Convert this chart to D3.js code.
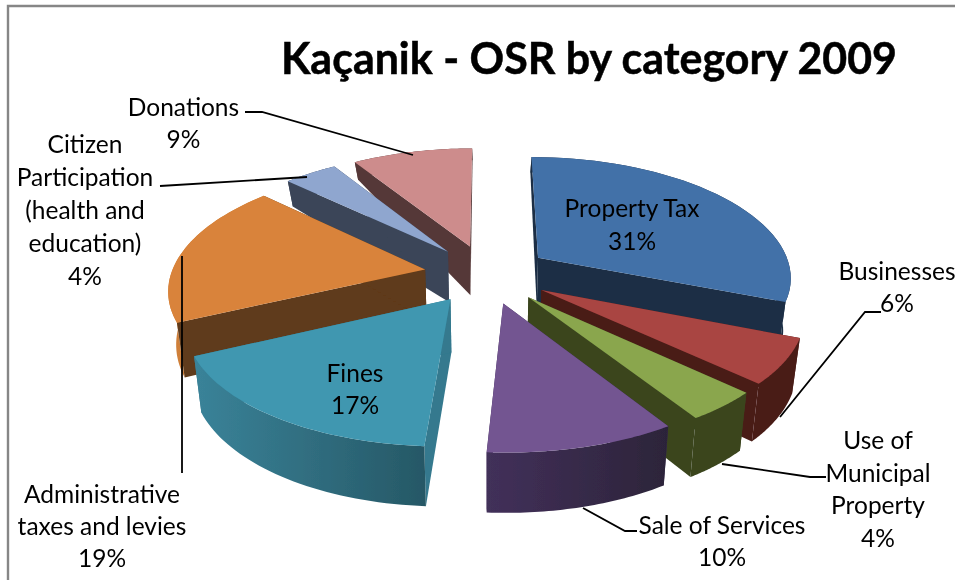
<!DOCTYPE html>
<html>
<head>
<meta charset="utf-8">
<script src="https://cdn.jsdelivr.net/npm/d3@7/dist/d3.min.js"></script>
<style>
html,body{margin:0;padding:0;background:#fff;}
svg{display:block;}
text{font-family:Lato,"Open Sans",sans-serif;fill:#000;}
</style>
</head>
<body>
<svg id="chart" width="955" height="580"></svg>
<script>
const titleText = "Kaçanik - OSR by category 2009";
const categories = ["Property Tax","Businesses","Use of Municipal Property","Sale of Services","Fines","Administrative taxes and levies","Citizen Participation (health and education)","Donations"];
const shares = [31,6,4,10,17,19,4,9];
const topColors = ["#4371a8","#a94442","#8aa64d","#735591","#3f97b0","#d9833a","#8fa6cf","#cd8c8c"];
const wallColors = ["#1c2f45","#4a1c18","#3a451f","#3d2d54","#34798e","#5f3a1a","#3a4558","#553838"];
const rimFromColors = ["#1c2f45","#4a1c18","#3a451f","#42305a","#3a8399","#d0803a","#3a4558","#553838"];
const rimToColors = ["#1c2f45","#4a1c18","#3a451f","#2c2439","#265866","#c87a34","#3a4558","#553838"];
const paintOrder = [7,6,5,0,1,2,3,4];
const labelLines = [["Property Tax","31%"],["Businesses","6%"],["Use of","Municipal","Property","4%"],["Sale of Services","10%"],["Fines","17%"],["Administrative","taxes and levies","19%"],["Citizen","Participation","(health and","education)","4%"],["Donations","9%"]];
const labelX = [632,897,878,722,355,102,85,183.5];
const labelY = [217,280,449,534,382,503,153,116];
const labelStep = [33,32,32.5,32,32,32,33,32];
const leaderLines = [
  [[245,112],[262,112],[413,155]],
  [[160,186],[307,177]],
  [[182,256],[182,473]],
  [[583,508],[625,531],[637,531]],
  [[722,464],[810,477],[826,477]],
  [[780,417],[865,312],[881,312]]
];

const svg = d3.select("#chart");
const cx = 487, cy = 274;
const explode = 0.248, perspX = 0.15, perspY = 0.14, radiusX = 254, radiusY = 119, converge = 0.975;
const sx = (X,Y) => cx + radiusX*X/(1+perspX*Y);
const sy = (X,Y) => cy - radiusY*Y/(1+perspY*Y);
const depth = d3.scaleLinear().domain([-1.2,-0.4,0.2,1.1]).range([60,55,50,17]);
const topPt = (X,Y) => [sx(X,Y), sy(X,Y)];
const botPt = (X,Y) => [cx + (sx(X,Y)-cx)*converge, sy(X,Y)+depth(Y)];
const line = d3.line();
const arcs = d3.pie().sort(null).value(d=>d)(shares);
const defs = svg.append("defs");
const addBlur = (id,s)=>defs.append("filter").attr("id",id).attr("x","-5%").attr("y","-10%").attr("width","110%").attr("height","120%")
  .append("feGaussianBlur").attr("stdDeviation",s);
addBlur("soft",0.55);
addBlur("softText",0.35);

svg.append("path").attr("d","M8,580V6H955").attr("fill","none").attr("stroke","#868686").attr("stroke-width",2.4);
const pieG = svg.append("g").attr("filter","url(#soft)");

paintOrder.forEach(i=>{
  const a = arcs[i];
  const mid = (a.startAngle+a.endAngle)/2;
  const ox = explode*Math.sin(mid), oy = explode*Math.cos(mid);
  const thetas = d3.range(0,41).map(k=>a.startAngle+(a.endAngle-a.startAngle)*k/40);
  const rim = thetas.map(t=>[ox+Math.sin(t), oy+Math.cos(t)]);
  const apex = [ox,oy];
  const rimTop = rim.map(p=>topPt(p[0],p[1]));
  const rimBot = rim.map(p=>botPt(p[0],p[1]));
  const g = pieG.append("g");
  const wall = (p)=>line([topPt(...apex),topPt(...p),botPt(...p),botPt(...apex)])+"Z";
  const drawWalls = ()=>{
    g.append("path").attr("d",wall(rim[0])).attr("fill",wallColors[i]);
    g.append("path").attr("d",wall(rim[rim.length-1])).attr("fill",wallColors[i]);
  };
  const wallsOverRim = categories[i].startsWith("Administrative");
  if(!wallsOverRim) drawWalls();
  const xs = rimTop.map(p=>p[0]);
  const grad = defs.append("linearGradient").attr("id","rim"+i).attr("gradientUnits","userSpaceOnUse")
    .attr("x1",d3.min(xs)).attr("x2",d3.max(xs)).attr("y1",0).attr("y2",0);
  grad.append("stop").attr("offset",0).attr("stop-color",rimFromColors[i]);
  grad.append("stop").attr("offset",1).attr("stop-color",rimToColors[i]);
  g.append("path").attr("d",line(rimTop.concat(rimBot.slice().reverse()))+"Z").attr("fill",`url(#rim${i})`);
  if(wallsOverRim) drawWalls();
  g.append("path").attr("d",line([topPt(...apex)].concat(rimTop))+"Z").attr("fill",topColors[i]);
});

svg.append("g").selectAll("path").data(leaderLines).join("path")
  .attr("d",d=>line(d)).attr("fill","none").attr("stroke","#000").attr("stroke-width",1.8);

const textG = svg.append("g").attr("filter","url(#softText)");
textG.append("text").attr("x",589).attr("y",74).attr("text-anchor","middle")
  .attr("font-size",44).attr("font-weight",700).attr("stroke","#000").attr("stroke-width",0.5)
  .attr("textLength",616).attr("lengthAdjust","spacingAndGlyphs").text(titleText);

labelLines.forEach((lines,i)=>{
  const t = textG.append("text").attr("text-anchor","middle").attr("font-size",24.5);
  lines.forEach((s,j)=>t.append("tspan").attr("x",labelX[i]).attr("y",labelY[i]+j*labelStep[i]).text(s));
});
</script>
</body>
</html>
